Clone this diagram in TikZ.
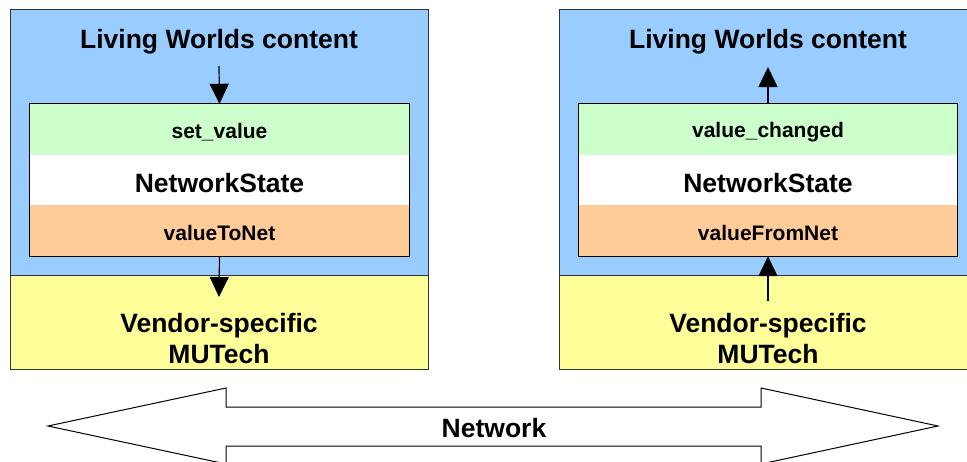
\documentclass[tikz,border=0pt]{standalone}
\usepackage{fontspec}
\setmainfont{Liberation Sans}
\usetikzlibrary{arrows.meta}
\definecolor{lwblue}{HTML}{99CCFF}
\definecolor{mutyellow}{HTML}{FFFF99}
\definecolor{evgreen}{HTML}{CCFFCC}
\definecolor{netorange}{HTML}{FFCC99}
\tikzset{
  blk/.style={draw=black!80,line width=1pt,minimum width=418pt},
  band/.style={minimum width=379pt,minimum height=51pt,inner sep=0pt},
  big/.style={font=\bfseries\fontsize{26.5}{31}\selectfont,align=center},
  small/.style={font=\bfseries\fontsize{21}{25}\selectfont},
  flow/.style={line width=1.2pt,-{Triangle[width=19pt,length=20pt]}}
}
\begin{document}
\begin{tikzpicture}[x=1pt,y=-1pt]
			\clip (0,0) rectangle (967,461);
			\fill[white] (0,0) rectangle (967,461);
			%sending side
			\node[blk,fill=lwblue,minimum height=266pt] (lwcL) at (219,142) {};
			\node[blk,fill=mutyellow,minimum height=94pt] (mutL) at (219,322) {};
			\node[big] (titleL) at (219,42) {Living Worlds content};
			\node[band,fill=evgreen] (setL) at (219.5,129.5) {};
			\node[band,fill=white,minimum height=50pt] (nsL) at (219.5,180) {};
			\node[band,fill=netorange] (vtnL) at (219.5,230.5) {};
			\draw[line width=1.3pt] (setL.north west) rectangle (vtnL.south east);
			\node[small] at ([yshift=-3pt]setL) {set\_value};
			\node[big] at ([yshift=-3pt]nsL) {NetworkState};
			\node[small] at ([yshift=-2pt]vtnL) {valueToNet};
			\node[big] (vsL) at (219,339) {Vendor-specific\\MUTech};
			\coordinate (inL) at (219,66);
			\coordinate (outL) at (219,297);
			\draw[flow] (inL) -- (setL.north);
			\draw[flow] (vtnL.south) -- (outL);
			%receiving side
			\node[blk,fill=lwblue,minimum height=266pt] (lwcR) at (768,142) {};
			\node[blk,fill=mutyellow,minimum height=94pt] (mutR) at (768,322) {};
			\node[big] (titleR) at (768,42) {Living Worlds content};
			\node[band,fill=evgreen] (vcR) at (768,129.5) {};
			\node[band,fill=white,minimum height=50pt] (nsR) at (768,180) {};
			\node[band,fill=netorange] (vfnR) at (768,230.5) {};
			\draw[line width=1.3pt] (vcR.north west) rectangle (vfnR.south east);
			\node[small] at ([yshift=-3pt]vcR) {value\_changed};
			\node[big] at ([yshift=-3pt]nsR) {NetworkState};
			\node[small] at ([yshift=-2pt]vfnR) {valueFromNet};
			\node[big] (vsR) at (768,339) {Vendor-specific\\MUTech};
			\coordinate (outR) at (768,67);
			\coordinate (inR) at (768,301);
			\draw[flow] (vcR.north) -- (outR);
			\draw[flow] (inR) -- (vfnR.south);
			%network
			\draw[line width=1pt] (48,426) -- (226,388) -- (226,407) -- (761,407) -- (761,388)
				-- (938,426) -- (761,464) -- (761,446) -- (226,446) -- (226,464) -- cycle;
			\node[big] (net) at (494,428) {Network};
		\end{tikzpicture}
\end{document}
